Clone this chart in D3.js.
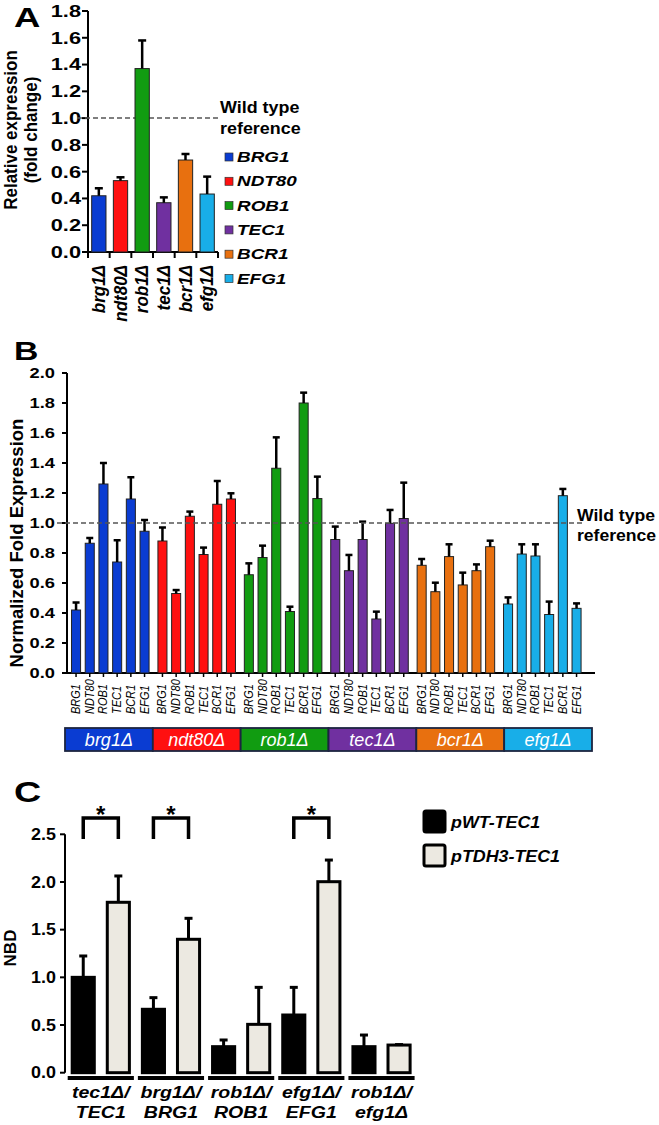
<!DOCTYPE html>
<html><head><meta charset="utf-8">
<script src="https://cdn.jsdelivr.net/npm/d3@7"></script>
<style>body{margin:0;background:#fff}svg{display:block}</style>
</head><body>
<svg id="c" width="659" height="1125"></svg>
<script>
// ---------- DATA ----------
const genes = ['BRG1','NDT80','ROB1','TEC1','BCR1','EFG1'];
const strains = ['brg1Δ','ndt80Δ','rob1Δ','tec1Δ','bcr1Δ','efg1Δ'];
const colors = ['#0a3cd2','#ff1010','#119c11','#7030a0','#e8700f','#18aee8'];
// Panel A
const valuesA = [0.42, 0.533, 1.37, 0.368, 0.687, 0.433];
const errA    = [0.056, 0.025, 0.21, 0.04, 0.045, 0.13];
const ticksA  = [0,0.2,0.4,0.6,0.8,1.0,1.2,1.4,1.6,1.8];
// Panel B (per deletion strain, genes in order BRG1..EFG1)
const bBrg1  = [0.42, 0.865, 1.26, 0.74, 1.16, 0.945];
const eBrg1  = [0.05, 0.035, 0.14, 0.145, 0.145, 0.075];
const bNdt80 = [0.88, 0.53, 1.045, 0.79, 1.125, 1.16];
const eNdt80 = [0.09, 0.023, 0.031, 0.046, 0.155, 0.038];
const bRob1  = [0.655, 0.77, 1.365, 0.41, 1.80, 1.163];
const eRob1  = [0.076, 0.079, 0.206, 0.032, 0.069, 0.146];
const bTec1  = [0.89, 0.682, 0.89, 0.36, 0.998, 1.03];
const eTec1  = [0.086, 0.105, 0.119, 0.049, 0.089, 0.239];
const bBcr1  = [0.718, 0.542, 0.776, 0.587, 0.682, 0.842];
const eBcr1  = [0.042, 0.06, 0.082, 0.082, 0.042, 0.04];
const bEfg1  = [0.46, 0.793, 0.78, 0.39, 1.182, 0.431];
const eEfg1  = [0.044, 0.065, 0.078, 0.086, 0.045, 0.033];
const ticksB = [0,0.2,0.4,0.6,0.8,1.0,1.2,1.4,1.6,1.8,2.0];
// Panel C
const groupsC1 = ['tec1Δ/','brg1Δ/','rob1Δ/','efg1Δ/','rob1Δ/'];
const groupsC2 = ['TEC1','BRG1','ROB1','EFG1','efg1Δ'];
const seriesC  = ['pWT-TEC1','pTDH3-TEC1'];
const wtC   = [1.0, 0.665, 0.273, 0.605, 0.273];
const wtE   = [0.224, 0.122, 0.07, 0.29, 0.122];
const tdhC  = [1.787, 1.399, 0.507, 2.003, 0.29];
const tdhE  = [0.276, 0.22, 0.388, 0.227, 0.005];
const sigC  = [0, 1, 3];
const ticksC = [0,0.5,1.0,1.5,2.0,2.5];

// ---------- DRAW ----------
const F = "'Liberation Sans', Arial, Helvetica, sans-serif";
const svg = d3.select('#c');
function txt(g, x, y, s, size, opts={}) {
  const sx = opts.sx || 1;
  const t = g.append('text').attr('x',0).attr('y',0).text(s)
    .attr('font-family',F).attr('font-size',size)
    .attr('font-weight',opts.w||'bold').attr('font-style',opts.i?'italic':'normal')
    .attr('fill',opts.fill||'#000').attr('text-anchor',opts.a||'start')
    .attr('transform',`translate(${x},${y}) scale(${sx},1)` + (opts.rot?' rotate(-90)':''));
  return t;
}
function errBar(g, x, y0, y1, cap, w) {
  g.append('line').attr('x1',x).attr('x2',x).attr('y1',y0).attr('y2',y1).attr('stroke','#000').attr('stroke-width',w);
  g.append('line').attr('x1',x-cap/2).attr('x2',x+cap/2).attr('y1',y1).attr('y2',y1).attr('stroke','#000').attr('stroke-width',w);
}
function yAxis(g, scale, x, ticks, size, tickLen, lblRight, sx) {
  g.append('line').attr('x1',x).attr('x2',x).attr('y1',scale(ticks[ticks.length-1])).attr('y2',scale(0)).attr('stroke','#000').attr('stroke-width',2);
  ticks.forEach(t => {
    g.append('line').attr('x1',x-tickLen).attr('x2',x).attr('y1',scale(t)).attr('y2',scale(t)).attr('stroke','#000').attr('stroke-width',2);
    txt(g, lblRight, scale(t)+size*0.36, d3.format('.1f')(t), size, {a:'end', sx});
  });
}

// ===== Panel A =====
const gA = svg.append('g');
const yA = d3.scaleLinear().domain([0,1.8]).range([252,11]);
const xA = d3.scaleBand().domain(strains).range([88,218]).paddingInner(0.34).paddingOuter(0.17);
txt(gA, 14, 27, 'A', 27, {sx:1.35});
yAxis(gA, yA, 88, ticksA, 16.5, 6, 81, 1.32);
gA.append('line').attr('x1',88).attr('x2',218).attr('y1',252).attr('y2',252).attr('stroke','#000').attr('stroke-width',2);
d3.range(strains.length+1).forEach(i => {
  const xb = i < strains.length ? xA(strains[i]) - xA.step()*xA.paddingOuter() : 218;
  gA.append('line').attr('x1',xb).attr('x2',xb).attr('y1',252).attr('y2',258).attr('stroke','#000').attr('stroke-width',2);
});
gA.append('line').attr('x1',77).attr('x2',218).attr('y1',yA(1)).attr('y2',yA(1)).attr('stroke','#555').attr('stroke-width',1.5).attr('stroke-dasharray','5,3');
strains.forEach((s,i) => {
  const x = xA(s), w = xA.bandwidth();
  gA.append('rect').attr('x',x).attr('y',yA(valuesA[i])).attr('width',w).attr('height',yA(0)-yA(valuesA[i]))
    .attr('fill',colors[i]).attr('stroke','#222').attr('stroke-width',1);
  errBar(gA, x+w/2, yA(valuesA[i]), yA(valuesA[i]+errA[i]), 8, 2.5);
  txt(gA, x+w/2+6, 265, s, 17, {i:true, a:'end', rot:true, sx:1.1});
});
txt(gA, 17, 130, 'Relative expression', 17, {a:'middle', rot:true, sx:1.05});
txt(gA, 37, 130, '(fold change)', 17, {a:'middle', rot:true, sx:1.05});
txt(gA, 220, 113, 'Wild type', 16, {sx:1.12});
txt(gA, 220, 134, 'reference', 16, {sx:1.12});
genes.forEach((gname,i) => {
  const y = 161 + i*24.3;
  gA.append('rect').attr('x',225).attr('y',y-8).attr('width',8).attr('height',8).attr('fill',colors[i]).attr('stroke','#333').attr('stroke-width',0.7);
  txt(gA, 237, y+1, gname, 15.5, {i:true, sx:1.22});
});

// ===== Panel B =====
const gB = svg.append('g');
const yB = d3.scaleLinear().domain([0,2.0]).range([673,373]);
const x0B = d3.scaleBand().domain(strains).range([69.2,583.4]).paddingInner(0.0486).paddingOuter(0);
const x1B = d3.scaleBand().domain(genes).range([0,x0B.bandwidth()]).paddingInner(0.34).paddingOuter(0.17);
txt(gB, 14, 360, 'B', 26, {sx:1.3});
yAxis(gB, yB, 67, ticksB, 15, 5, 55, 1.22);
gB.append('line').attr('x1',67).attr('x2',595).attr('y1',673).attr('y2',673).attr('stroke','#000').attr('stroke-width',2);
const bVals = [bBrg1,bNdt80,bRob1,bTec1,bBcr1,bEfg1];
const bErrs = [eBrg1,eNdt80,eRob1,eTec1,eBcr1,eEfg1];
strains.forEach((s,si) => {
  genes.forEach((gname,gi) => {
    const v = bVals[si][gi], e = bErrs[si][gi];
    const x = x0B(s)+x1B(gname), w = x1B.bandwidth(), cx = x+w/2;
    gB.append('rect').attr('x',x).attr('y',yB(v)).attr('width',w).attr('height',yB(0)-yB(v))
      .attr('fill',colors[si]).attr('stroke','#222').attr('stroke-width',1);
    errBar(gB, cx, yB(v), yB(v+e), 7, 2.5);
    gB.append('line').attr('x1',cx).attr('x2',cx).attr('y1',673).attr('y2',677).attr('stroke','#000').attr('stroke-width',1.5);
    txt(gB, cx+4, 714, gname, 11, {w:'normal', i:true, rot:true, sx:1.15});
  });
});
gB.append('line').attr('x1',57).attr('x2',585).attr('y1',yB(1)).attr('y2',yB(1)).attr('stroke','#555').attr('stroke-width',1.5).attr('stroke-dasharray','5,3');
txt(gB, 577, 521, 'Wild type', 16, {sx:1.1});
txt(gB, 577, 541, 'reference', 16, {sx:1.1});
txt(gB, 23, 543, 'Normalized Fold Expression', 18.5, {a:'middle', rot:true});
// strain label bar
const xL = d3.scaleBand().domain(strains).range([65,592]);
strains.forEach((s,i) => {
  gB.append('rect').attr('x',xL(s)).attr('y',728).attr('width',xL.bandwidth()).attr('height',23)
    .attr('fill',colors[i]).attr('stroke','#1c2540').attr('stroke-width',1.8);
  txt(gB, xL(s)+xL.bandwidth()/2, 746, s, 18, {w:'normal', i:true, a:'middle', fill:'#fff'});
});

// ===== Panel C =====
const gC = svg.append('g');
const yC = d3.scaleLinear().domain([0,2.5]).range([1072.7,834.3]);
const x0C = d3.scaleBand().domain(d3.range(groupsC1.length)).range([65.7,416.6]);
const x1C = d3.scaleBand().domain(seriesC).range([0,x0C.bandwidth()]).paddingInner(0.37).paddingOuter(0.185);
txt(gC, 14, 802, 'C', 29, {sx:1.3});
yAxis(gC, yC, 65, ticksC, 16, 5, 56, 1.12);
const fillsC = ['#000','#ece9e1'];
groupsC1.forEach((g1,i) => {
  [[wtC,wtE],[tdhC,tdhE]].forEach(([vals,errs],k) => {
    const x = x0C(i)+x1C(seriesC[k]), w = x1C.bandwidth(), v = vals[i];
    gC.append('rect').attr('x',x).attr('y',yC(v)).attr('width',w).attr('height',yC(0)-yC(v))
      .attr('fill',fillsC[k]).attr('stroke','#000').attr('stroke-width',3);
    errBar(gC, x+w/2, yC(v), yC(v+errs[i]), 8, 3);
  });
  gC.append('line').attr('x1',x0C(i)+2).attr('x2',x0C(i)+x0C.bandwidth()-2).attr('y1',1078).attr('y2',1078).attr('stroke','#000').attr('stroke-width',4);
  const cx = x0C(i)+x0C.bandwidth()/2;
  txt(gC, cx, 1098, g1, 17, {i:true, a:'middle', sx:1.15});
  txt(gC, cx, 1118, groupsC2[i], 17, {i:true, a:'middle', sx:1.15});
});
sigC.forEach(i => {
  const xa = x0C(i)+x1C(seriesC[0])+x1C.bandwidth()/2;
  const xb = x0C(i)+x1C(seriesC[1])+x1C.bandwidth()/2;
  gC.append('path').attr('d',`M${xa},839V818H${xb}V839`).attr('fill','none').attr('stroke','#000').attr('stroke-width',3.5);
  txt(gC, (xa+xb)/2, 823, '*', 24, {a:'middle'});
});
txt(gC, 16, 948, 'NBD', 17, {a:'middle', rot:true});
seriesC.forEach((s,k) => {
  const y = 811 + k*34;
  gC.append('rect').attr('x',424).attr('y',y).attr('width',21).attr('height',21).attr('rx',2)
    .attr('fill',fillsC[k]).attr('stroke','#000').attr('stroke-width',3);
  txt(gC, 451, y+17, s, 17, {i:true, sx:1.05});
});
</script>
</body></html>
